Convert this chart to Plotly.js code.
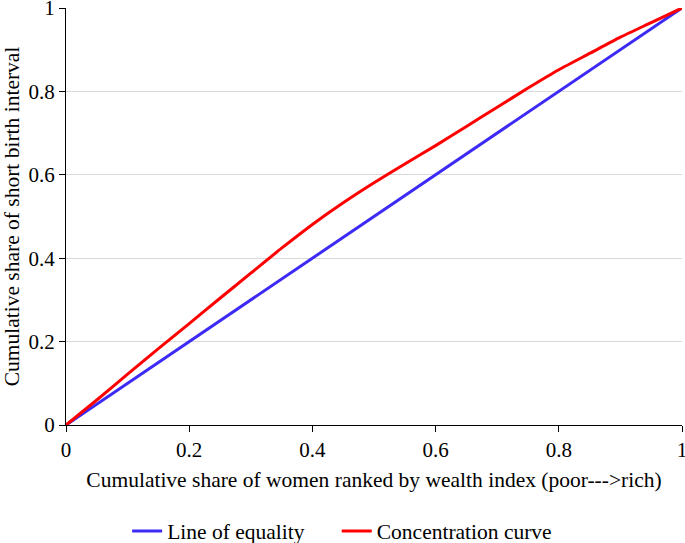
<!DOCTYPE html>
<html>
<head>
<meta charset="utf-8">
<script src="https://cdn.plot.ly/plotly-3.0.1.min.js"></script>
<style>html,body{margin:0;padding:0;background:#fff;}#chart{width:685px;height:543px;}</style>
</head>
<body>
<div id="chart"></div>
<script>
const equalityX = [0, 1];
const equalityY = [0, 1];
const concX = [0, 0.05, 0.1, 0.15, 0.2, 0.25, 0.3, 0.35, 0.4, 0.45, 0.5, 0.55, 0.6, 0.65, 0.7, 0.75, 0.8, 0.85, 0.9, 0.95, 1];
const concY = [0, 0.06, 0.122, 0.183, 0.243, 0.304, 0.364, 0.424, 0.481, 0.533, 0.581, 0.626, 0.670, 0.716, 0.762, 0.808, 0.852, 0.891, 0.93, 0.965, 1];
const tickVals = [0, 0.2, 0.4, 0.6, 0.8, 1];
const tickText = ["0", "0.2", "0.4", "0.6", "0.8", "1"];

const fam = "'Times New Roman', 'Liberation Serif', 'DejaVu Serif', serif";
const font = {family: fam, color: "#000", size: 20};

const data = [
  {x: equalityX, y: equalityY, type: "scatter", mode: "lines", name: "Line of equality",
   legend: "legend", line: {color: "#3d2bf5", width: 3}},
  {x: concX, y: concY, type: "scatter", mode: "lines", name: "Concentration curve",
   legend: "legend2", line: {color: "#ff0000", width: 3, shape: "spline", smoothing: 0.6}}
];

const legendFont = {family: fam, size: 21.5, color: "#000"};

const layout = {
  width: 685, height: 543,
  margin: {l: 66, r: 3, t: 8, b: 118, autoexpand: false},
  paper_bgcolor: "#fff", plot_bgcolor: "#fff",
  font: font,
  showlegend: true,
  legend: {orientation: "h", x: 0.1856, xanchor: "left", xref: "container",
           y: 0.022, yanchor: "middle", yref: "container", font: legendFont},
  legend2: {orientation: "h", x: 0.4916, xanchor: "left", xref: "container",
           y: 0.022, yanchor: "middle", yref: "container", font: legendFont},
  xaxis: {
    range: [0, 1], tickvals: tickVals, ticktext: tickText, ticklabeloverflow: "allow",
    automargin: false,
    showgrid: false, zeroline: false, showline: true, linecolor: "#000", linewidth: 1,
    ticks: "outside", ticklen: 6, tickcolor: "#000",
    tickfont: {family: fam, size: 21, color: "#000"},
    title: {text: "Cumulative share of women ranked by wealth index (poor--->rich)",
            font: {family: fam, size: 21.5, color: "#000"}, standoff: 10}
  },
  yaxis: {
    range: [0, 1], tickvals: tickVals, ticktext: tickText, ticklabeloverflow: "allow",
    automargin: false,
    showgrid: true, gridcolor: "#d9d9d9", gridwidth: 1,
    zeroline: false, showline: true, linecolor: "#000", linewidth: 1,
    ticks: "outside", ticklen: 6, tickcolor: "#000",
    tickfont: {family: fam, size: 21, color: "#000"},
    title: {text: "Cumulative share of short birth interval",
            font: {family: fam, size: 21.5, color: "#000"}, standoff: 8}
  }
};

Plotly.newPlot("chart", data, layout, {displayModeBar: false, staticPlot: true});
</script>
</body>
</html>
